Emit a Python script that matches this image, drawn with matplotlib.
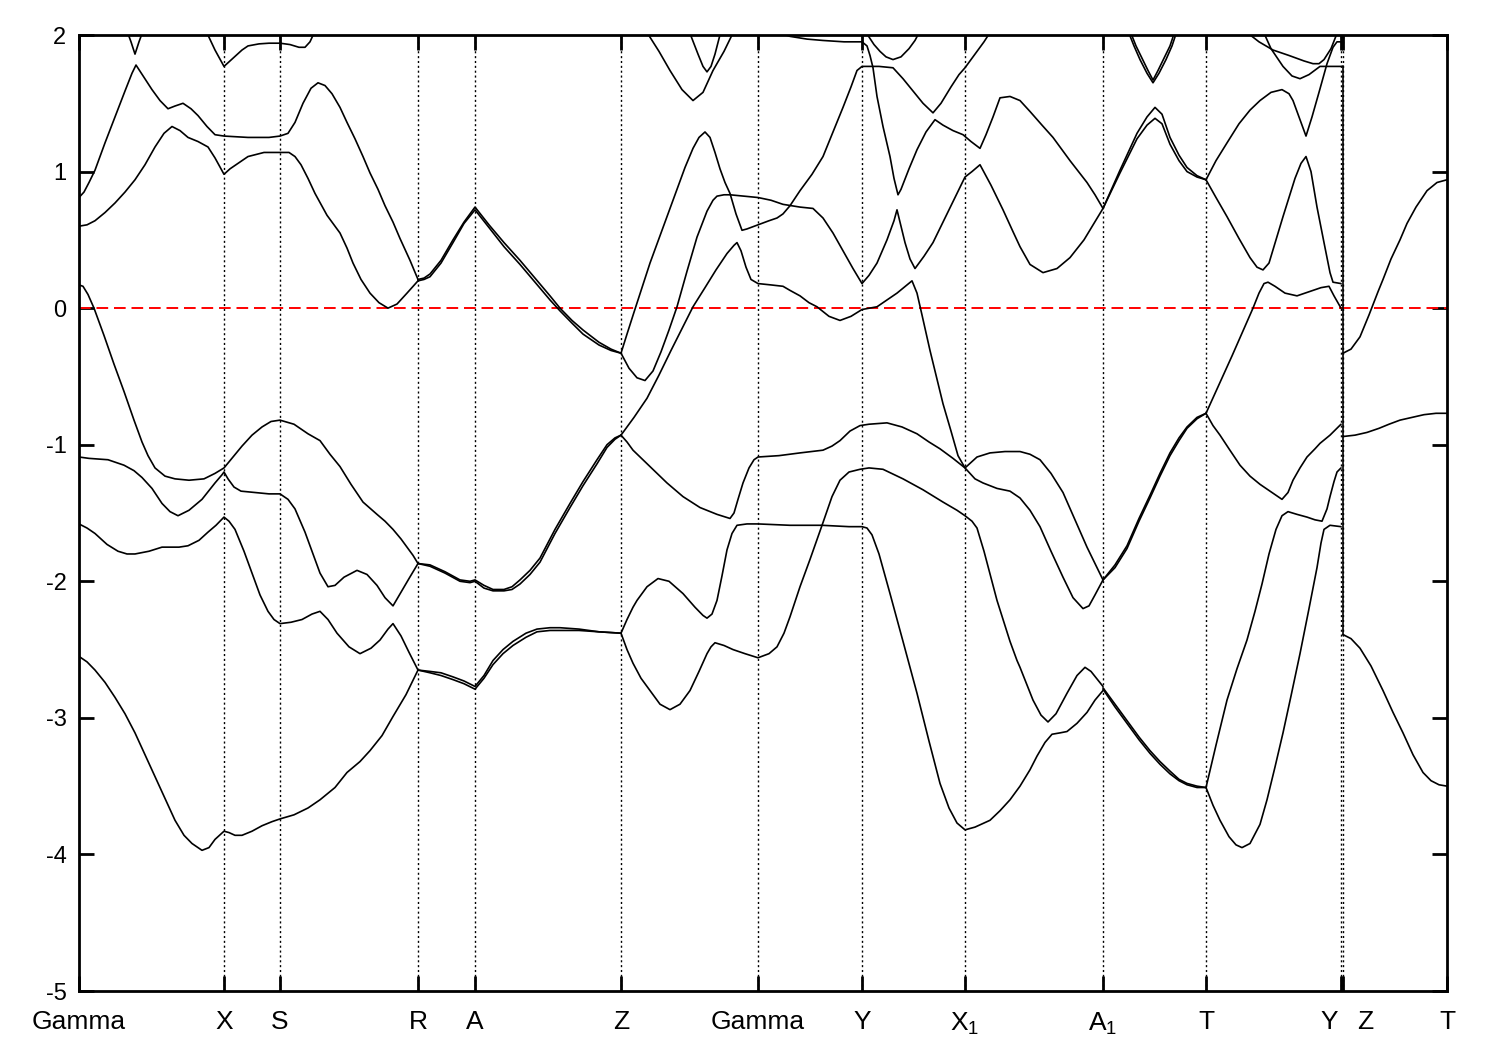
import matplotlib
matplotlib.use("Agg")
import matplotlib.pyplot as plt
from matplotlib.transforms import ScaledTranslation

plt.rcParams['font.family'] = ['Liberation Sans', 'DejaVu Sans']
plt.rcParams['mathtext.fontset'] = 'custom'
plt.rcParams['mathtext.rm'] = 'Liberation Sans'

# ---------------- data ----------------
kpoint_labels = ["Gamma", "X", "S", "R", "A", "Z", "Gamma", "Y",
                 r"X$_\mathregular{1}$", r"A$_\mathregular{1}$", "T", "Y", "Z", "T"]
kpoint_pos = [0.000, 0.145, 0.201, 0.339, 0.396, 0.542, 0.679, 0.783,
              0.886, 1.024, 1.127, 1.262, 1.264, 1.368]
energy_ticks = [-5, -4, -3, -2, -1, 0, 1, 2]
fermi_level = 0.0

band_T1 = [(0.047, 2.05), (0.052, 1.95), (0.056, 1.86), (0.060, 1.95), (0.065, 2.05)]
band_T2 = [(0.127, 2.03), (0.136, 1.89), (0.145, 1.77), (0.151, 1.81), (0.157, 1.85),
           (0.163, 1.89), (0.169, 1.92), (0.180, 1.935), (0.190, 1.94), (0.201, 1.94),
           (0.211, 1.93), (0.220, 1.91), (0.226, 1.91), (0.231, 1.95), (0.236, 2.03)]
band_B = [(0.000, 0.81), (0.005, 0.85), (0.010, 0.92), (0.016, 1.01), (0.026, 1.21),
          (0.036, 1.40), (0.046, 1.59), (0.053, 1.72), (0.057, 1.78), (0.065, 1.69),
          (0.073, 1.60), (0.081, 1.52), (0.089, 1.46), (0.096, 1.48), (0.104, 1.50),
          (0.112, 1.46), (0.119, 1.41), (0.128, 1.33), (0.136, 1.27), (0.145, 1.26),
          (0.169, 1.25), (0.190, 1.25), (0.201, 1.26), (0.209, 1.28), (0.216, 1.36),
          (0.224, 1.50), (0.232, 1.61), (0.239, 1.65), (0.246, 1.63), (0.253, 1.57),
          (0.261, 1.47), (0.268, 1.36), (0.276, 1.24), (0.284, 1.11), (0.291, 0.99),
          (0.299, 0.87), (0.306, 0.75), (0.314, 0.63), (0.321, 0.51), (0.331, 0.35),
          (0.339, 0.21)]
band_C = [(0.000, 0.60), (0.008, 0.61), (0.016, 0.64), (0.026, 0.70), (0.036, 0.77),
          (0.046, 0.85), (0.056, 0.94), (0.066, 1.05), (0.076, 1.18), (0.085, 1.28),
          (0.093, 1.33), (0.101, 1.30), (0.109, 1.25), (0.119, 1.22), (0.129, 1.18),
          (0.136, 1.10), (0.145, 0.98), (0.151, 1.02), (0.157, 1.05), (0.169, 1.11),
          (0.185, 1.14), (0.201, 1.14), (0.210, 1.14), (0.216, 1.11), (0.222, 1.05),
          (0.229, 0.95), (0.236, 0.84), (0.248, 0.68), (0.261, 0.55), (0.268, 0.44),
          (0.274, 0.33), (0.282, 0.21), (0.291, 0.11), (0.300, 0.04), (0.309, 0.00),
          (0.318, 0.03), (0.328, 0.11), (0.339, 0.20)]
band_P1a = [(0.339, 0.21), (0.345, 0.22), (0.351, 0.25), (0.362, 0.35), (0.374, 0.50),
            (0.385, 0.63), (0.396, 0.74), (0.410, 0.61), (0.425, 0.48), (0.441, 0.35),
            (0.456, 0.22), (0.471, 0.09), (0.481, 0.00), (0.493, -0.09), (0.504, -0.16),
            (0.520, -0.25), (0.532, -0.30), (0.542, -0.33)]
band_P1b = [(0.339, 0.20), (0.345, 0.21), (0.351, 0.23), (0.362, 0.33), (0.374, 0.48),
            (0.385, 0.62), (0.396, 0.72), (0.410, 0.59), (0.425, 0.45), (0.441, 0.32),
            (0.456, 0.19), (0.471, 0.06), (0.481, -0.02), (0.493, -0.11), (0.504, -0.19),
            (0.520, -0.27), (0.532, -0.31), (0.542, -0.33)]
band_P2a = [(0.339, -1.87), (0.351, -1.88), (0.366, -1.93), (0.381, -1.99), (0.391, -2.00),
            (0.396, -1.99), (0.405, -2.03), (0.414, -2.06), (0.425, -2.06), (0.433, -2.04),
            (0.441, -1.99), (0.451, -1.92), (0.461, -1.83), (0.476, -1.62), (0.491, -1.43),
            (0.504, -1.27), (0.518, -1.11), (0.528, -1.00), (0.536, -0.95), (0.542, -0.93)]
band_P2b = [(0.339, -1.87), (0.351, -1.89), (0.366, -1.94), (0.381, -2.00), (0.391, -2.01),
            (0.396, -2.00), (0.405, -2.05), (0.414, -2.07), (0.425, -2.07), (0.433, -2.06),
            (0.441, -2.02), (0.451, -1.95), (0.461, -1.86), (0.476, -1.65), (0.491, -1.46),
            (0.504, -1.30), (0.518, -1.14), (0.528, -1.02), (0.536, -0.96), (0.542, -0.93)]
band_P3a = [(0.339, -2.65), (0.351, -2.66), (0.362, -2.67), (0.374, -2.70), (0.385, -2.73),
            (0.396, -2.77), (0.405, -2.69), (0.414, -2.58), (0.424, -2.50), (0.434, -2.44),
            (0.447, -2.38), (0.458, -2.35), (0.471, -2.34), (0.481, -2.34), (0.500, -2.35),
            (0.520, -2.37), (0.542, -2.38)]
band_P3b = [(0.339, -2.65), (0.351, -2.67), (0.362, -2.69), (0.374, -2.72), (0.385, -2.75),
            (0.396, -2.79), (0.405, -2.71), (0.414, -2.61), (0.424, -2.53), (0.434, -2.47),
            (0.447, -2.41), (0.458, -2.37), (0.471, -2.36), (0.481, -2.36), (0.500, -2.36),
            (0.520, -2.37), (0.542, -2.38)]
band_L1 = [(0.000, 0.17), (0.004, 0.16), (0.009, 0.10), (0.015, 0.00), (0.025, -0.20),
           (0.035, -0.41), (0.045, -0.61), (0.055, -0.82), (0.063, -0.98), (0.069, -1.08),
           (0.076, -1.17), (0.086, -1.23), (0.096, -1.25), (0.110, -1.26), (0.125, -1.25),
           (0.136, -1.21), (0.145, -1.17), (0.154, -1.09), (0.163, -1.01), (0.173, -0.93),
           (0.183, -0.87), (0.192, -0.83), (0.201, -0.82), (0.215, -0.85), (0.229, -0.92),
           (0.241, -0.97), (0.251, -1.07), (0.261, -1.16), (0.272, -1.29), (0.284, -1.42),
           (0.298, -1.51), (0.306, -1.56), (0.314, -1.62), (0.322, -1.69), (0.328, -1.75),
           (0.334, -1.81), (0.339, -1.87)]
band_L2 = [(0.000, -1.09), (0.010, -1.10), (0.029, -1.11), (0.045, -1.15), (0.055, -1.19),
           (0.063, -1.24), (0.073, -1.32), (0.083, -1.43), (0.091, -1.49), (0.099, -1.52),
           (0.110, -1.48), (0.123, -1.40), (0.136, -1.28), (0.143, -1.22), (0.145, -1.20),
           (0.149, -1.25), (0.155, -1.31), (0.162, -1.34), (0.176, -1.35), (0.190, -1.36),
           (0.201, -1.36), (0.209, -1.40), (0.216, -1.47), (0.226, -1.64), (0.236, -1.84),
           (0.241, -1.94), (0.249, -2.04), (0.256, -2.03), (0.265, -1.97), (0.278, -1.92),
           (0.288, -1.95), (0.298, -2.03), (0.306, -2.12), (0.314, -2.18), (0.322, -2.08),
           (0.330, -1.98), (0.339, -1.87)]
band_L3 = [(0.000, -1.58), (0.008, -1.61), (0.016, -1.65), (0.028, -1.73), (0.039, -1.78),
           (0.048, -1.80), (0.056, -1.80), (0.070, -1.78), (0.083, -1.75), (0.100, -1.75),
           (0.109, -1.74), (0.120, -1.70), (0.129, -1.64), (0.137, -1.59), (0.145, -1.53),
           (0.150, -1.56), (0.156, -1.62), (0.165, -1.78), (0.173, -1.94), (0.181, -2.10),
           (0.189, -2.22), (0.195, -2.28), (0.201, -2.31), (0.212, -2.30), (0.223, -2.28),
           (0.233, -2.24), (0.241, -2.22), (0.249, -2.28), (0.258, -2.38), (0.270, -2.48),
           (0.281, -2.53), (0.292, -2.49), (0.301, -2.43), (0.309, -2.35), (0.314, -2.31),
           (0.322, -2.40), (0.330, -2.52), (0.339, -2.65)]
band_L4 = [(0.000, -2.55), (0.008, -2.59), (0.016, -2.65), (0.026, -2.74), (0.036, -2.85),
           (0.046, -2.97), (0.056, -3.11), (0.066, -3.27), (0.076, -3.43), (0.086, -3.59),
           (0.096, -3.75), (0.105, -3.86), (0.113, -3.92), (0.123, -3.97), (0.130, -3.95),
           (0.136, -3.89), (0.145, -3.83), (0.150, -3.84), (0.156, -3.86), (0.163, -3.86),
           (0.173, -3.83), (0.183, -3.79), (0.193, -3.76), (0.201, -3.74), (0.215, -3.71),
           (0.229, -3.66), (0.241, -3.60), (0.256, -3.51), (0.268, -3.40), (0.281, -3.32),
           (0.291, -3.24), (0.303, -3.13), (0.314, -2.99), (0.327, -2.83), (0.339, -2.65)]
band_Ca = [(0.542, -0.33), (0.548, -0.19), (0.555, -0.03), (0.563, 0.15), (0.571, 0.33),
           (0.585, 0.61), (0.598, 0.87), (0.606, 1.03), (0.614, 1.17), (0.620, 1.25),
           (0.626, 1.29), (0.631, 1.25), (0.636, 1.14), (0.641, 1.02), (0.646, 0.92),
           (0.651, 0.84), (0.657, 0.69), (0.663, 0.57), (0.668, 0.58), (0.679, 0.61),
           (0.690, 0.64), (0.698, 0.66), (0.704, 0.69), (0.711, 0.75), (0.721, 0.86),
           (0.733, 0.98), (0.744, 1.11), (0.754, 1.29), (0.764, 1.47), (0.772, 1.62),
           (0.778, 1.74), (0.783, 1.77), (0.800, 1.77), (0.814, 1.76), (0.824, 1.68),
           (0.834, 1.59), (0.844, 1.50), (0.854, 1.43), (0.862, 1.50), (0.872, 1.62),
           (0.880, 1.71), (0.886, 1.76), (0.896, 1.86), (0.905, 1.95), (0.912, 2.03)]
band_Cb = [(0.542, -0.33), (0.550, -0.44), (0.558, -0.51), (0.566, -0.53), (0.574, -0.46),
           (0.582, -0.32), (0.590, -0.16), (0.598, 0.01), (0.608, 0.27), (0.618, 0.52),
           (0.628, 0.71), (0.634, 0.79), (0.638, 0.82), (0.645, 0.83), (0.651, 0.83),
           (0.665, 0.82), (0.679, 0.81), (0.692, 0.79), (0.704, 0.76), (0.721, 0.74),
           (0.734, 0.73), (0.744, 0.66), (0.754, 0.55), (0.764, 0.42), (0.774, 0.29),
           (0.783, 0.18), (0.790, 0.24), (0.798, 0.33), (0.808, 0.50), (0.815, 0.64),
           (0.818, 0.72), (0.822, 0.60), (0.826, 0.48), (0.831, 0.36), (0.836, 0.29),
           (0.845, 0.38), (0.854, 0.48), (0.870, 0.72), (0.886, 0.96), (0.893, 1.00),
           (0.901, 1.05), (0.912, 0.90), (0.924, 0.72), (0.934, 0.56), (0.941, 0.45),
           (0.951, 0.32), (0.964, 0.26), (0.978, 0.29), (0.991, 0.37), (1.005, 0.50),
           (1.024, 0.73)]
band_Cc = [(0.542, -0.93), (0.555, -0.80), (0.568, -0.66), (0.580, -0.49), (0.592, -0.31),
           (0.603, -0.15), (0.614, 0.01), (0.626, 0.15), (0.637, 0.28), (0.648, 0.40),
           (0.655, 0.46), (0.658, 0.48), (0.662, 0.42), (0.667, 0.30), (0.672, 0.21),
           (0.679, 0.18), (0.692, 0.17), (0.704, 0.16), (0.711, 0.13), (0.721, 0.09),
           (0.730, 0.04), (0.738, 0.01), (0.750, -0.06), (0.761, -0.09), (0.772, -0.06),
           (0.783, -0.01), (0.798, 0.01), (0.808, 0.06), (0.818, 0.11), (0.828, 0.17),
           (0.833, 0.20), (0.838, 0.11), (0.843, -0.05), (0.851, -0.31), (0.858, -0.52),
           (0.864, -0.70), (0.872, -0.90), (0.879, -1.08), (0.886, -1.17), (0.898, -1.09),
           (0.911, -1.06), (0.926, -1.05), (0.941, -1.05), (0.951, -1.07), (0.961, -1.11),
           (0.972, -1.21), (0.984, -1.35), (0.996, -1.55), (1.008, -1.75), (1.016, -1.87),
           (1.024, -1.99)]
band_M1 = [(0.542, -0.93), (0.548, -0.98), (0.554, -1.04), (0.571, -1.16), (0.588, -1.28),
           (0.604, -1.38), (0.621, -1.46), (0.638, -1.51), (0.651, -1.54), (0.655, -1.50),
           (0.659, -1.40), (0.664, -1.28), (0.670, -1.17), (0.675, -1.11), (0.679, -1.09),
           (0.700, -1.08), (0.721, -1.06), (0.744, -1.04), (0.753, -1.01), (0.761, -0.97),
           (0.771, -0.90), (0.781, -0.86), (0.790, -0.85), (0.808, -0.84), (0.823, -0.87),
           (0.838, -0.92), (0.850, -0.98), (0.861, -1.03), (0.874, -1.10), (0.886, -1.17),
           (0.896, -1.25), (0.904, -1.28), (0.918, -1.32), (0.931, -1.34), (0.941, -1.39),
           (0.951, -1.48), (0.961, -1.60), (0.972, -1.78), (0.984, -1.97), (0.994, -2.12),
           (1.004, -2.20), (1.010, -2.18), (1.016, -2.10), (1.024, -1.99)]
band_N1 = [(0.542, -2.38), (0.548, -2.28), (0.554, -2.19), (0.558, -2.14), (0.568, -2.04),
           (0.579, -1.98), (0.590, -2.00), (0.604, -2.09), (0.616, -2.19), (0.624, -2.25),
           (0.628, -2.27), (0.633, -2.24), (0.638, -2.14), (0.643, -1.96), (0.648, -1.77),
           (0.653, -1.65), (0.658, -1.59), (0.668, -1.58), (0.679, -1.58), (0.711, -1.59),
           (0.743, -1.59), (0.770, -1.60), (0.783, -1.60), (0.788, -1.61), (0.793, -1.66),
           (0.800, -1.80), (0.811, -2.09), (0.824, -2.44), (0.838, -2.82), (0.850, -3.17),
           (0.861, -3.48), (0.870, -3.66), (0.878, -3.77), (0.886, -3.82), (0.896, -3.80),
           (0.911, -3.75), (0.921, -3.68), (0.931, -3.60), (0.941, -3.50), (0.951, -3.38),
           (0.958, -3.28), (0.966, -3.18), (0.973, -3.12), (0.981, -3.11), (0.988, -3.10),
           (0.998, -3.04), (1.008, -2.96), (1.016, -2.87), (1.024, -2.80)]
band_N2 = [(0.542, -2.38), (0.548, -2.50), (0.554, -2.60), (0.562, -2.71), (0.571, -2.80),
           (0.581, -2.90), (0.591, -2.94), (0.601, -2.90), (0.611, -2.80), (0.620, -2.66),
           (0.628, -2.53), (0.632, -2.48), (0.636, -2.45), (0.645, -2.47), (0.654, -2.50),
           (0.666, -2.53), (0.679, -2.56), (0.690, -2.53), (0.698, -2.48), (0.705, -2.38),
           (0.711, -2.26), (0.721, -2.04), (0.731, -1.84), (0.744, -1.57), (0.753, -1.38),
           (0.761, -1.26), (0.770, -1.20), (0.781, -1.18), (0.790, -1.17), (0.804, -1.18),
           (0.824, -1.25), (0.844, -1.33), (0.864, -1.42), (0.878, -1.48), (0.886, -1.52),
           (0.893, -1.56), (0.898, -1.61), (0.905, -1.78), (0.918, -2.14), (0.931, -2.44),
           (0.938, -2.58), (0.941, -2.63), (0.954, -2.87), (0.962, -2.98), (0.969, -3.03),
           (0.977, -2.97), (0.988, -2.82), (0.998, -2.69), (1.006, -2.63), (1.012, -2.66),
           (1.024, -2.77)]
band_D = [(0.695, 2.03), (0.711, 1.99), (0.728, 1.97), (0.744, 1.96), (0.765, 1.95),
          (0.783, 1.95), (0.788, 1.92), (0.791, 1.85), (0.794, 1.76), (0.798, 1.55),
          (0.804, 1.33), (0.811, 1.11), (0.815, 0.95), (0.819, 0.83), (0.822, 0.87),
          (0.830, 1.02), (0.838, 1.16), (0.847, 1.29), (0.856, 1.38), (0.864, 1.34),
          (0.874, 1.30), (0.884, 1.27), (0.892, 1.22), (0.901, 1.17), (0.907, 1.27),
          (0.914, 1.40), (0.921, 1.54), (0.931, 1.55), (0.941, 1.52), (0.951, 1.44),
          (0.963, 1.34), (0.974, 1.25), (0.991, 1.08), (1.008, 0.92), (1.016, 0.83),
          (1.024, 0.73)]
band_UY = [(0.786, 2.03), (0.795, 1.93), (0.801, 1.88), (0.807, 1.84), (0.814, 1.82),
           (0.822, 1.84), (0.830, 1.90), (0.836, 1.96), (0.841, 2.03)]
band_ZU1 = [(0.567, 2.03), (0.580, 1.88), (0.591, 1.74), (0.603, 1.60), (0.614, 1.52),
            (0.624, 1.58), (0.634, 1.74), (0.645, 1.88), (0.655, 2.03)]
band_ZU2 = [(0.610, 2.03), (0.619, 1.86), (0.624, 1.77), (0.628, 1.73), (0.632, 1.77),
            (0.636, 1.86), (0.642, 2.03)]
band_AT1 = [(1.024, 0.73), (1.041, 1.01), (1.058, 1.28), (1.068, 1.40), (1.076, 1.47),
            (1.083, 1.42), (1.091, 1.25), (1.100, 1.12), (1.108, 1.03), (1.118, 0.97),
            (1.127, 0.94)]
band_AT2 = [(1.024, 0.73), (1.041, 0.99), (1.058, 1.24), (1.068, 1.34), (1.076, 1.39),
            (1.083, 1.35), (1.091, 1.20), (1.100, 1.08), (1.108, 1.00), (1.118, 0.96),
            (1.127, 0.94)]
band_AU1 = [(1.049, 2.03), (1.055, 1.92), (1.061, 1.82), (1.068, 1.72), (1.074, 1.65),
            (1.080, 1.72), (1.087, 1.82), (1.093, 1.92), (1.098, 2.03)]
band_AU2 = [(1.051, 2.03), (1.057, 1.92), (1.063, 1.83), (1.069, 1.74), (1.074, 1.67),
            (1.079, 1.74), (1.085, 1.83), (1.091, 1.92), (1.096, 2.03)]
band_AT3 = [(1.024, -1.99), (1.036, -1.88), (1.048, -1.74), (1.060, -1.54), (1.071, -1.37),
            (1.081, -1.21), (1.091, -1.06), (1.100, -0.95), (1.108, -0.87), (1.118, -0.80),
            (1.127, -0.77)]
band_AT4 = [(1.024, -1.99), (1.036, -1.90), (1.048, -1.76), (1.060, -1.56), (1.071, -1.39),
            (1.081, -1.23), (1.091, -1.08), (1.100, -0.97), (1.108, -0.88), (1.118, -0.81),
            (1.127, -0.77)]
band_AT5 = [(1.024, -2.78), (1.036, -2.90), (1.048, -3.02), (1.060, -3.14), (1.071, -3.24),
            (1.081, -3.32), (1.091, -3.39), (1.100, -3.45), (1.108, -3.48), (1.118, -3.50),
            (1.127, -3.51)]
band_AT6 = [(1.024, -2.79), (1.036, -2.92), (1.048, -3.04), (1.060, -3.16), (1.071, -3.26),
            (1.081, -3.34), (1.091, -3.41), (1.100, -3.46), (1.108, -3.49), (1.118, -3.51),
            (1.127, -3.51)]
band_TY1 = [(1.127, 0.94), (1.137, 1.08), (1.148, 1.21), (1.160, 1.35), (1.171, 1.45),
            (1.181, 1.52), (1.192, 1.58), (1.203, 1.60), (1.210, 1.57), (1.214, 1.52),
            (1.220, 1.40), (1.227, 1.26), (1.233, 1.40), (1.240, 1.58), (1.248, 1.79),
            (1.254, 1.91), (1.258, 1.95), (1.262, 1.95)]
band_TY2 = [(1.127, 0.94), (1.137, 0.81), (1.148, 0.67), (1.160, 0.51), (1.171, 0.37),
            (1.178, 0.30), (1.184, 0.28), (1.190, 0.33), (1.197, 0.50), (1.204, 0.67),
            (1.216, 0.95), (1.222, 1.06), (1.227, 1.11), (1.232, 1.00), (1.238, 0.74),
            (1.245, 0.48), (1.251, 0.26), (1.254, 0.19), (1.262, 0.18)]
band_TY3 = [(1.127, -0.77), (1.140, -0.56), (1.153, -0.35), (1.165, -0.15), (1.174, 0.00),
            (1.180, 0.11), (1.185, 0.18), (1.189, 0.19), (1.196, 0.16), (1.206, 0.11),
            (1.218, 0.09), (1.230, 0.12), (1.242, 0.15), (1.250, 0.16), (1.255, 0.09),
            (1.262, 0.00)]
band_TY4 = [(1.127, -0.77), (1.134, -0.86), (1.141, -0.93), (1.150, -1.03), (1.161, -1.15),
            (1.171, -1.23), (1.181, -1.29), (1.191, -1.34), (1.203, -1.40), (1.209, -1.35),
            (1.214, -1.26), (1.221, -1.17), (1.228, -1.09), (1.236, -1.03), (1.241, -0.99),
            (1.251, -0.93), (1.262, -0.85)]
band_TY5 = [(1.127, -3.51), (1.137, -3.20), (1.148, -2.87), (1.158, -2.64), (1.168, -2.43),
            (1.176, -2.22), (1.183, -2.02), (1.190, -1.80), (1.197, -1.62), (1.203, -1.52),
            (1.209, -1.49), (1.218, -1.51), (1.228, -1.53), (1.236, -1.55), (1.243, -1.56),
            (1.248, -1.47), (1.251, -1.38), (1.255, -1.27), (1.258, -1.20), (1.262, -1.17)]
band_TY6 = [(1.127, -3.51), (1.134, -3.64), (1.141, -3.75), (1.150, -3.87), (1.157, -3.93),
            (1.163, -3.95), (1.171, -3.92), (1.181, -3.78), (1.188, -3.60), (1.196, -3.36),
            (1.204, -3.11), (1.212, -2.84), (1.221, -2.53), (1.230, -2.20), (1.238, -1.90),
            (1.242, -1.72), (1.245, -1.62), (1.251, -1.59), (1.262, -1.60)]
band_TY7 = [(1.166, 2.03), (1.173, 1.99), (1.180, 1.95), (1.194, 1.89), (1.210, 1.85),
            (1.225, 1.81), (1.234, 1.79), (1.240, 1.79), (1.245, 1.82), (1.252, 1.90),
            (1.259, 2.03)]
band_TY8 = [(1.184, 2.03), (1.192, 1.90), (1.204, 1.77), (1.213, 1.70), (1.221, 1.68),
            (1.230, 1.71), (1.241, 1.77), (1.250, 1.77), (1.264, 1.77)]
band_jump = [(1.264, 1.77), (1.264, -2.39)]
band_ZT1 = [(1.264, -0.33), (1.272, -0.30), (1.281, -0.21), (1.290, -0.05), (1.299, 0.12),
            (1.304, 0.21), (1.312, 0.36), (1.321, 0.50), (1.328, 0.62), (1.337, 0.74),
            (1.348, 0.86), (1.358, 0.92), (1.368, 0.94)]
band_ZT2 = [(1.264, -0.94), (1.276, -0.93), (1.288, -0.91), (1.300, -0.88), (1.310, -0.85),
            (1.321, -0.82), (1.333, -0.80), (1.345, -0.78), (1.357, -0.77), (1.368, -0.77)]
band_ZT3 = [(1.264, -2.39), (1.272, -2.42), (1.281, -2.49), (1.292, -2.62), (1.304, -2.80),
            (1.314, -2.96), (1.324, -3.11), (1.334, -3.27), (1.344, -3.40), (1.352, -3.46),
            (1.360, -3.49), (1.368, -3.50)]

all_bands = [band_T1, band_T2, band_B, band_C, band_P1a, band_P1b, band_P2a, band_P2b,
             band_P3a, band_P3b, band_L1, band_L2, band_L3, band_L4, band_Ca, band_Cb,
             band_Cc, band_M1, band_N1, band_N2, band_D, band_UY, band_ZU1, band_ZU2,
             band_AT1, band_AT2, band_AU1, band_AU2, band_AT3, band_AT4, band_AT5, band_AT6,
             band_TY1, band_TY2, band_TY3, band_TY4, band_TY5, band_TY6, band_TY7, band_TY8,
             band_jump, band_ZT1, band_ZT2, band_ZT3]

# ---------------- figure ----------------
fig = plt.figure(figsize=(15, 10.5), dpi=100)
ax = fig.add_axes([79 / 1500, 1 - 991 / 1050, (1447 - 79) / 1500, (991 - 35) / 1050])

for k in kpoint_pos[1:-1]:
    ax.axvline(k, color='black', lw=1.0, ls=(0, (1.5, 2.0)), zorder=1)

ax.axhline(fermi_level, color='#ff0000', lw=1.4, ls=(0, (6, 3)), zorder=2)

for band in all_bands:
    ks = [p[0] for p in band]
    es = [p[1] for p in band]
    ax.plot(ks, es, color='black', lw=1.2, solid_joinstyle='round',
            solid_capstyle='round', zorder=3)

ax.set_xlim(kpoint_pos[0], kpoint_pos[-1])
ax.set_ylim(-5, 2)
ax.set_yticks(energy_ticks)
ax.set_yticklabels([str(v) for v in energy_ticks])
ax.set_xticks(kpoint_pos)
ax.set_xticklabels(kpoint_labels)

ax.tick_params(axis='both', direction='in', length=11, width=2.0, labelsize=17,
               top=True, right=True)
ax.tick_params(axis='y', pad=9)
ax.tick_params(axis='x', pad=14, labelsize=19)
for sp in ax.spines.values():
    sp.set_linewidth(2.0)

# shift overlapping Y / Z labels apart
lbls = ax.get_xticklabels()
lbls[11].set_transform(lbls[11].get_transform() + ScaledTranslation(-12 / 100, 0, fig.dpi_scale_trans))
lbls[12].set_transform(lbls[12].get_transform() + ScaledTranslation(22 / 100, 0, fig.dpi_scale_trans))

fig.savefig("out.png", dpi=100)
